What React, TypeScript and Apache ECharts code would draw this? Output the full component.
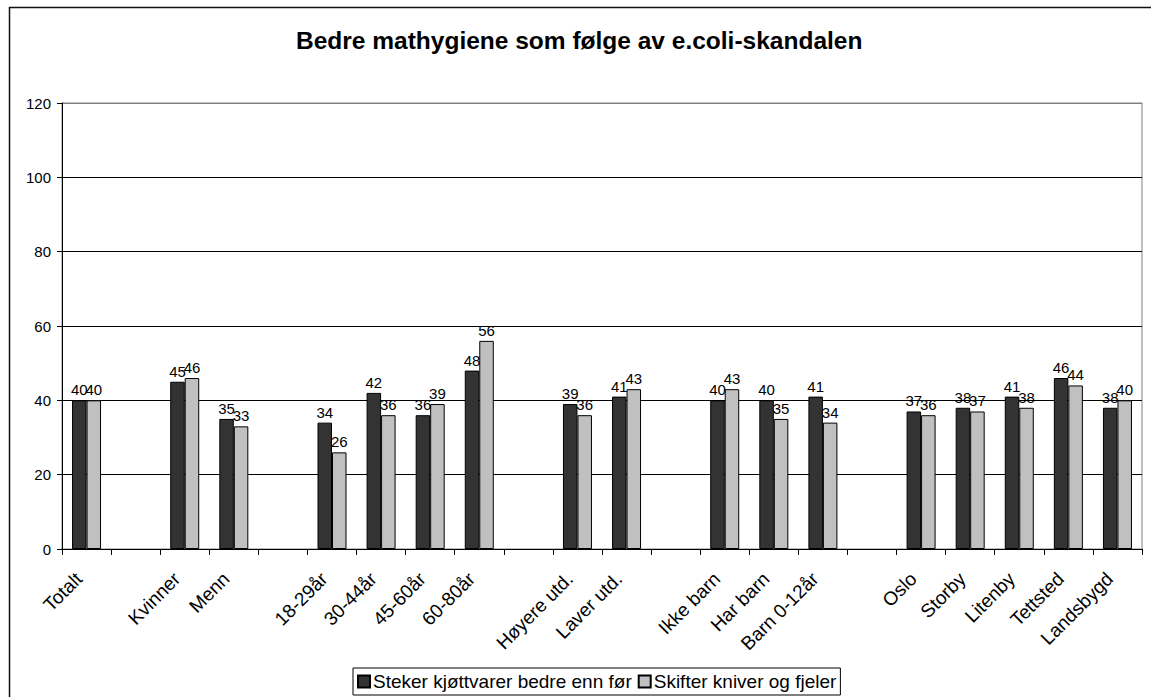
import React, { useEffect, useRef } from "react";
import * as echarts from "echarts";

const categories = [
  "Totalt", "", "Kvinner", "Menn", "", "18-29år", "30-44år", "45-60år", "60-80år", "",
  "Høyere utd.", "Laver utd.", "", "Ikke barn", "Har barn", "Barn 0-12år", "",
  "Oslo", "Storby", "Litenby", "Tettsted", "Landsbygd",
];
const stekerValues = [40, null, 45, 35, null, 34, 42, 36, 48, null, 39, 41, null, 40, 40, 41, null, 37, 38, 41, 46, 38];
const skifterValues = [40, null, 46, 33, null, 26, 36, 39, 56, null, 36, 43, null, 43, 35, 34, null, 36, 37, 38, 44, 40];
const seriesNames = ["Steker kjøttvarer bedre enn før", "Skifter kniver og fjeler"];
const titleText = "Bedre mathygiene som følge av e.coli-skandalen";

const FONT = "'Liberation Sans', Arial, Helvetica, sans-serif";

export default function App() {
  const ref = useRef<HTMLDivElement>(null);
  useEffect(() => {
    if (!ref.current) return;
    const chart = echarts.init(ref.current, null, { renderer: "svg" });
    const label = {
      show: true,
      position: "top" as const,
      distance: 3,
      color: "#000",
      fontSize: 15,
      fontFamily: FONT,
    };
    chart.setOption({
      animation: false,
      backgroundColor: "#fff",
      textStyle: { fontFamily: FONT },
      title: {
        text: titleText,
        left: 296,
        top: 28,
        padding: 0,
        textStyle: { fontSize: 24.5, fontWeight: "bold", color: "#000", fontFamily: FONT },
      },
      graphic: [
        {
          type: "rect",
          shape: { x: 9.5, y: 7.5, width: 1300, height: 900 },
          style: { fill: "none", stroke: "#111", lineWidth: 1.5 },
          silent: true,
          z: 100,
        },
      ],
      legend: {
        left: 353,
        top: 668,
        orient: "horizontal",
        padding: [4, 4, 4, 4],
        itemWidth: 12,
        itemHeight: 12,
        itemGap: 6,
        borderColor: "#000",
        borderWidth: 1,
        icon: "rect",
        textStyle: { fontSize: 19, color: "#000", fontFamily: FONT, padding: [0, 0, 0, -2] },
        data: seriesNames,
      },
      grid: {
        left: 62,
        right: 9,
        top: 103,
        bottom: 148,
        show: true,
        borderColor: "#808080",
        borderWidth: 1,
        backgroundColor: "transparent",
      },
      xAxis: {
        type: "category",
        data: categories,
        axisLine: { show: true, lineStyle: { color: "#000", width: 1 } },
        axisTick: { show: true, interval: 0, length: 6, alignWithLabel: false, lineStyle: { color: "#000" } },
        axisLabel: {
          interval: 0,
          rotate: 45,
          fontSize: 19,
          color: "#000",
          fontFamily: FONT,
          margin: 19,
          padding: [0, 11, 0, 0],
        },
        splitLine: { show: false },
      },
      yAxis: {
        type: "value",
        min: 0,
        max: 120,
        interval: 20,
        axisLine: { show: true, lineStyle: { color: "#000", width: 1 } },
        axisTick: { show: true, length: 5, lineStyle: { color: "#000" } },
        axisLabel: { fontSize: 15, color: "#000", fontFamily: FONT, margin: 11 },
        splitLine: {
          show: true,
          lineStyle: {
            color: ["#000", "#000", "#000", "#000", "#000", "#000", "#808080"],
            width: 1,
          },
        },
      },
      series: [
        {
          name: seriesNames[0],
          type: "bar",
          data: stekerValues,
          barWidth: 14.5,
          barGap: "0%",
          itemStyle: { color: "#333333", borderColor: "#000", borderWidth: 1 },
          label,
        },
        {
          name: seriesNames[1],
          type: "bar",
          data: skifterValues,
          barWidth: 14.5,
          barGap: "0%",
          itemStyle: { color: "#C0C0C0", borderColor: "#000", borderWidth: 1 },
          label,
        },
      ],
    });
    return () => chart.dispose();
  }, []);
  return (
    <div
      ref={ref}
      style={{ position: "absolute", left: 0, top: 0, width: 1151, height: 697 }}
    />
  );
}
